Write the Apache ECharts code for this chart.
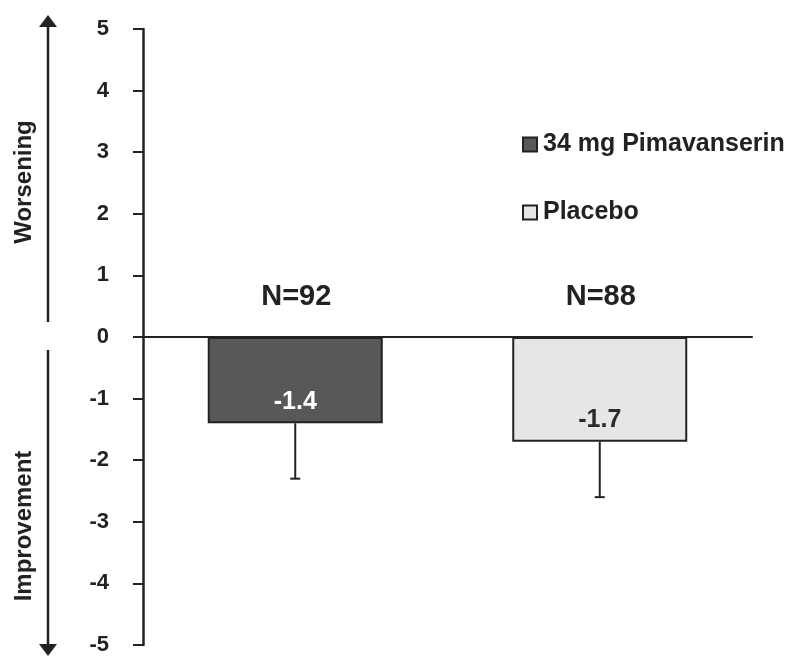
<!DOCTYPE html>
<html>
<head>
<meta charset="utf-8">
<script src="https://cdn.jsdelivr.net/npm/echarts@6/dist/echarts.min.js"></script>
<style>
  html, body { margin: 0; padding: 0; background: #fff; }
  #chart { width: 794px; height: 656px; }
</style>
</head>
<body>
<div id="chart"></div>
<script>
// Change from baseline, mean with standard error
const groups = ['34 mg Pimavanserin', 'Placebo'];
const means = [-1.4, -1.7];
const errors = [0.9, 0.9];
const sampleSizes = ['N=92', 'N=88'];
const barColors = ['#58585a', '#e6e6e8'];
const valueLabelColors = ['#ffffff', '#2a2a2a'];
const yTicks = [-5, -4, -3, -2, -1, 0, 1, 2, 3, 4, 5];

const FONT = '"Liberation Sans", Arial, sans-serif';
const INK = '#222222';

const chart = echarts.init(document.getElementById('chart'));

const barSeries = groups.map((name, i) => ({
  name: name,
  type: 'bar',
  stack: 'groups',
  barWidth: 175,
  data: groups.map((_, j) => (j === i ? means[i] : '-')),
  itemStyle: { color: barColors[i], borderColor: INK, borderWidth: 2 },
  label: {
    show: true,
    position: 'insideBottom',
    distance: 9,
    formatter: (p) => p.value.toFixed(1),
    color: valueLabelColors[i],
    fontFamily: FONT,
    fontWeight: 'bold',
    fontSize: 25
  },
  z: 2
}));

// Downward whiskers with a short cap, plus the group size above the baseline
const errorSeries = {
  type: 'custom',
  name: 'errors',
  data: means.map((m, i) => [i, m, m - errors[i]]),
  renderItem: function (params, api) {
    const i = api.value(0);
    const top = api.coord([i, api.value(1)]);
    const bottom = api.coord([i, api.value(2)]);
    const zero = api.coord([i, 0]);
    const style = { stroke: INK, lineWidth: 2 };
    return {
      type: 'group',
      children: [
        { type: 'line', shape: { x1: top[0], y1: top[1], x2: bottom[0], y2: bottom[1] }, style: style },
        { type: 'line', shape: { x1: bottom[0] - 5, y1: bottom[1], x2: bottom[0] + 5, y2: bottom[1] }, style: style },
        {
          type: 'text',
          x: zero[0] + 1, y: zero[1] - 40,
          style: {
            text: sampleSizes[i],
            align: 'center', verticalAlign: 'middle',
            fill: INK, font: 'bold 29px ' + FONT
          }
        }
      ]
    };
  },
  z: 3,
  silent: true
};

function arrow(x, yFrom, yTo) {
  const dir = yTo < yFrom ? -1 : 1;
  const headLen = 12, headHalf = 9;
  return [
    { type: 'line', shape: { x1: x, y1: yFrom, x2: x, y2: yTo - dir * headLen },
      style: { stroke: INK, lineWidth: 2.5 } },
    { type: 'polygon', shape: { points: [[x, yTo], [x - headHalf, yTo - dir * headLen], [x + headHalf, yTo - dir * headLen]] },
      style: { fill: INK } }
  ];
}

chart.setOption({
  animation: false,
  backgroundColor: '#ffffff',
  grid: { left: 143, right: 42, top: 29, bottom: 11, containLabel: false },
  legend: {
    orient: 'vertical',
    left: 517,
    top: 127,
    itemWidth: 14,
    itemHeight: 14,
    itemGap: 43,
    data: groups.map((g, i) => ({
      name: g,
      icon: 'rect',
      itemStyle: { color: barColors[i], borderColor: INK, borderWidth: 2 }
    })),
    textStyle: { color: INK, fontFamily: FONT, fontWeight: 'bold', fontSize: 25, padding: [0, 0, 0, 1] },
    selectedMode: false
  },
  xAxis: {
    type: 'category',
    data: groups,
    axisLine: { onZero: true, lineStyle: { color: INK, width: 2 } },
    axisTick: { show: false },
    axisLabel: { show: false },
    splitLine: { show: false }
  },
  yAxis: {
    type: 'value',
    min: yTicks[0],
    max: yTicks[yTicks.length - 1],
    interval: 1,
    axisLine: { show: true, lineStyle: { color: INK, width: 2.5 } },
    axisTick: { show: true, length: 10, lineStyle: { color: INK, width: 2 } },
    axisLabel: { color: INK, fontFamily: FONT, fontWeight: 'bold', fontSize: 22, margin: 34 },
    splitLine: { show: false }
  },
  graphic: [
    ...arrow(48, 322, 15),
    ...arrow(48, 350, 656),
    {
      type: 'text', x: 24, y: 182, rotation: Math.PI / 2,
      style: { text: 'Worsening', align: 'center', verticalAlign: 'middle', fill: INK, font: 'bold 24px ' + FONT }
    },
    {
      type: 'text', x: 24, y: 526, rotation: Math.PI / 2,
      style: { text: 'Improvement', align: 'center', verticalAlign: 'middle', fill: INK, font: 'bold 24px ' + FONT }
    }
  ],
  series: [...barSeries, errorSeries]
});
</script>
</body>
</html>
